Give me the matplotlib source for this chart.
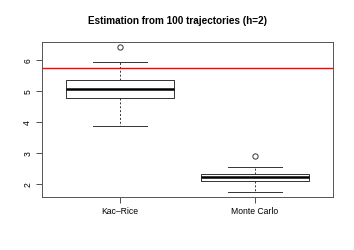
import matplotlib
matplotlib.use("Agg")
import matplotlib.pyplot as plt

plt.rcParams['font.family'] = ['Liberation Sans', 'DejaVu Sans']

categories = ["Kac\u2013Rice", "Monte Carlo"]
whislo = [3.87, 1.76]
q1 = [4.77, 2.12]
med = [5.06, 2.25]
q3 = [5.36, 2.34]
whishi = [5.94, 2.55]
fliers = [[6.42], [2.91]]
true_value = 5.76
yticks = [2, 3, 4, 5, 6]

fig = plt.figure(figsize=(3.54, 2.5), dpi=100)
ax = fig.add_axes([42/354, 53/250, 291/354, 155/250])

stats = []
for i, c in enumerate(categories):
    stats.append(dict(label=c, whislo=whislo[i], q1=q1[i], med=med[i], q3=q3[i],
                      whishi=whishi[i], fliers=fliers[i]))

ax.bxp(stats, positions=[1, 2], widths=0.8, showfliers=True,
       boxprops=dict(color='#333333', linewidth=0.7),
       medianprops=dict(color='black', linewidth=1.8, solid_capstyle='butt'),
       whiskerprops=dict(color='#333333', linewidth=0.7, linestyle=(0, (2, 2))),
       capprops=dict(color='#333333', linewidth=0.7),
       capwidths=0.4,
       flierprops=dict(marker='o', markerfacecolor='none', markeredgecolor='#333333',
                       markersize=3.8, markeredgewidth=0.7))

ax.axhline(true_value, color='red', linewidth=1.0)

ax.set_xlim(0.42, 2.58)
ax.set_ylim(1.59, 6.59)
ax.set_yticks(yticks)
ax.set_yticklabels([str(t) for t in yticks], rotation=90, va='center')
ax.set_xticks([1, 2])
ax.set_xticklabels(categories)
ax.tick_params(axis='both', labelsize=6.2, length=4, width=0.6, color='#333333',
               pad=3)
for s in ax.spines.values():
    s.set_color('#555555')
    s.set_linewidth(0.7)

fig.suptitle("Estimation from 100 trajectories (h=2)", fontsize=7.2,
             fontweight='bold', y=1 - 21.5/250, va='center')

fig.savefig("out.png", dpi=100)
